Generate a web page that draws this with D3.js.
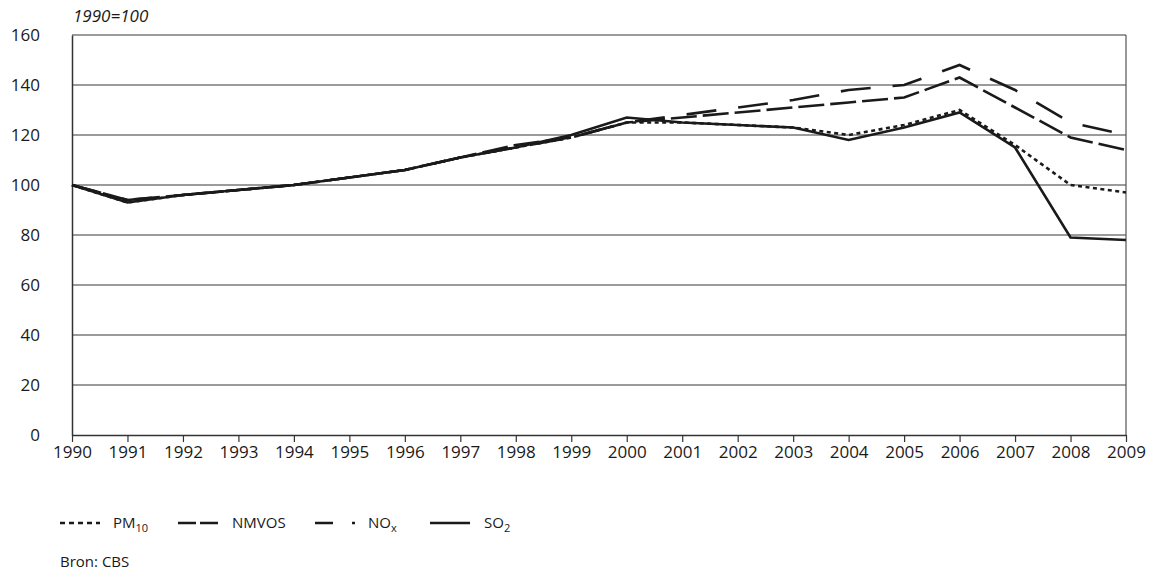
<!DOCTYPE html>
<html><head><meta charset="utf-8">
<script src="https://cdn.jsdelivr.net/npm/d3@7"></script>
<style>body{margin:0;background:#fff}svg{display:block}text{font-family:"Open Sans",sans-serif;fill:#1a1a1a}</style>
</head><body><svg id="c" width="1155" height="576"></svg>
<script>
const years = [1990,1991,1992,1993,1994,1995,1996,1997,1998,1999,2000,2001,2002,2003,2004,2005,2006,2007,2008,2009];
const pm10  = [100,93,96,98,100,103,106,111,115,119,125,125,124,123,120,124,130,116,100,97];
const nmvos = [100,94,96,98,100,103,106,111,116,119,125,127,129,131,133,135,143,131,119,114];
const nox   = [100,94,96,98,100,103,106,111,115,119,125,128,131,134,138,140,148,138,125,120];
const so2   = [100,93,96,98,100,103,106,111,115,120,127,125,124,123,118,123,129,115,79,78];
const yTicks = [0,20,40,60,80,100,120,140,160];
const seriesNames = ["PM10","NMVOS","NOx","SO2"];

const svg = d3.select("#c");
const L=72,R=1126,T=35,B=435;
const x = d3.scaleLinear().domain([1990,2009]).range([L,R]);
const y = d3.scaleLinear().domain([0,160]).range([B,T]);

// gridlines
svg.append("g").selectAll("line").data(yTicks.filter(d=>d>0)).join("line")
  .attr("x1",L).attr("x2",R).attr("y1",d=>y(d)).attr("y2",d=>y(d))
  .attr("stroke","#7a7a7a").attr("stroke-width",1.3);
// right border
svg.append("line").attr("x1",R).attr("x2",R).attr("y1",T).attr("y2",B).attr("stroke","#555").attr("stroke-width",1.2);

// y axis
const ya = svg.append("g").attr("transform",`translate(${L},0)`)
  .call(d3.axisLeft(y).tickValues(yTicks).tickSize(0).tickPadding(32));
ya.select(".domain").attr("stroke","#333").attr("stroke-width",1.5);
ya.selectAll("text").style("font-size","17px").attr("fill","#1a1a1a");

// x axis
const xa = svg.append("g").attr("transform",`translate(0,${B})`)
  .call(d3.axisBottom(x).tickValues(years).tickFormat(d3.format("d")).tickSize(7).tickSizeOuter(0).tickPadding(4));
xa.select(".domain").attr("stroke","#333").attr("stroke-width",1.5);
xa.selectAll(".tick line").attr("stroke","#333").attr("stroke-width",1.2);
xa.selectAll("text").style("font-size","17px").attr("fill","#1a1a1a");

svg.append("text").attr("x",L+1).attr("y",22).style("font-size","17px").style("font-style","italic").text("1990=100");

const line = d3.line().x((d,i)=>x(years[i])).y(d=>y(d));
const styles = [
  {data:pm10, dash:"4,3.5", leg:"5,4"},
  {data:nmvos, dash:"26,6", leg:"18,4"},
  {data:nox, dash:"30,22", leg:"18,19,3,100"},
  {data:so2, dash:null, leg:null}
];
styles.forEach(s=>{
  svg.append("path").datum(s.data).attr("d",line).attr("fill","none")
    .attr("stroke","#1a1a1a").attr("stroke-width",2.6).attr("stroke-linejoin","miter")
    .attr("stroke-dasharray",s.dash);
});

// legend
const legX = [60,178,315,430];
const lg = svg.append("g");
styles.forEach((s,i)=>{
  lg.append("line").attr("x1",legX[i]).attr("x2",legX[i]+40).attr("y1",523).attr("y2",523)
    .attr("stroke","#1a1a1a").attr("stroke-width",2.6).attr("stroke-dasharray",s.leg);
});
const labs = [["PM","10"],["NMVOS",""],["NO","x"],["SO","2"]];
const labX = [113,232,368,484];
labs.forEach((l,i)=>{
  const t = lg.append("text").attr("x",labX[i]).attr("y",528).style("font-size","15px");
  t.append("tspan").text(l[0]);
  if(l[1]) t.append("tspan").attr("dy",4).style("font-size","11px").text(l[1]);
});
svg.append("text").attr("x",60).attr("y",567).style("font-size","15px").text("Bron: CBS");
</script></body></html>
